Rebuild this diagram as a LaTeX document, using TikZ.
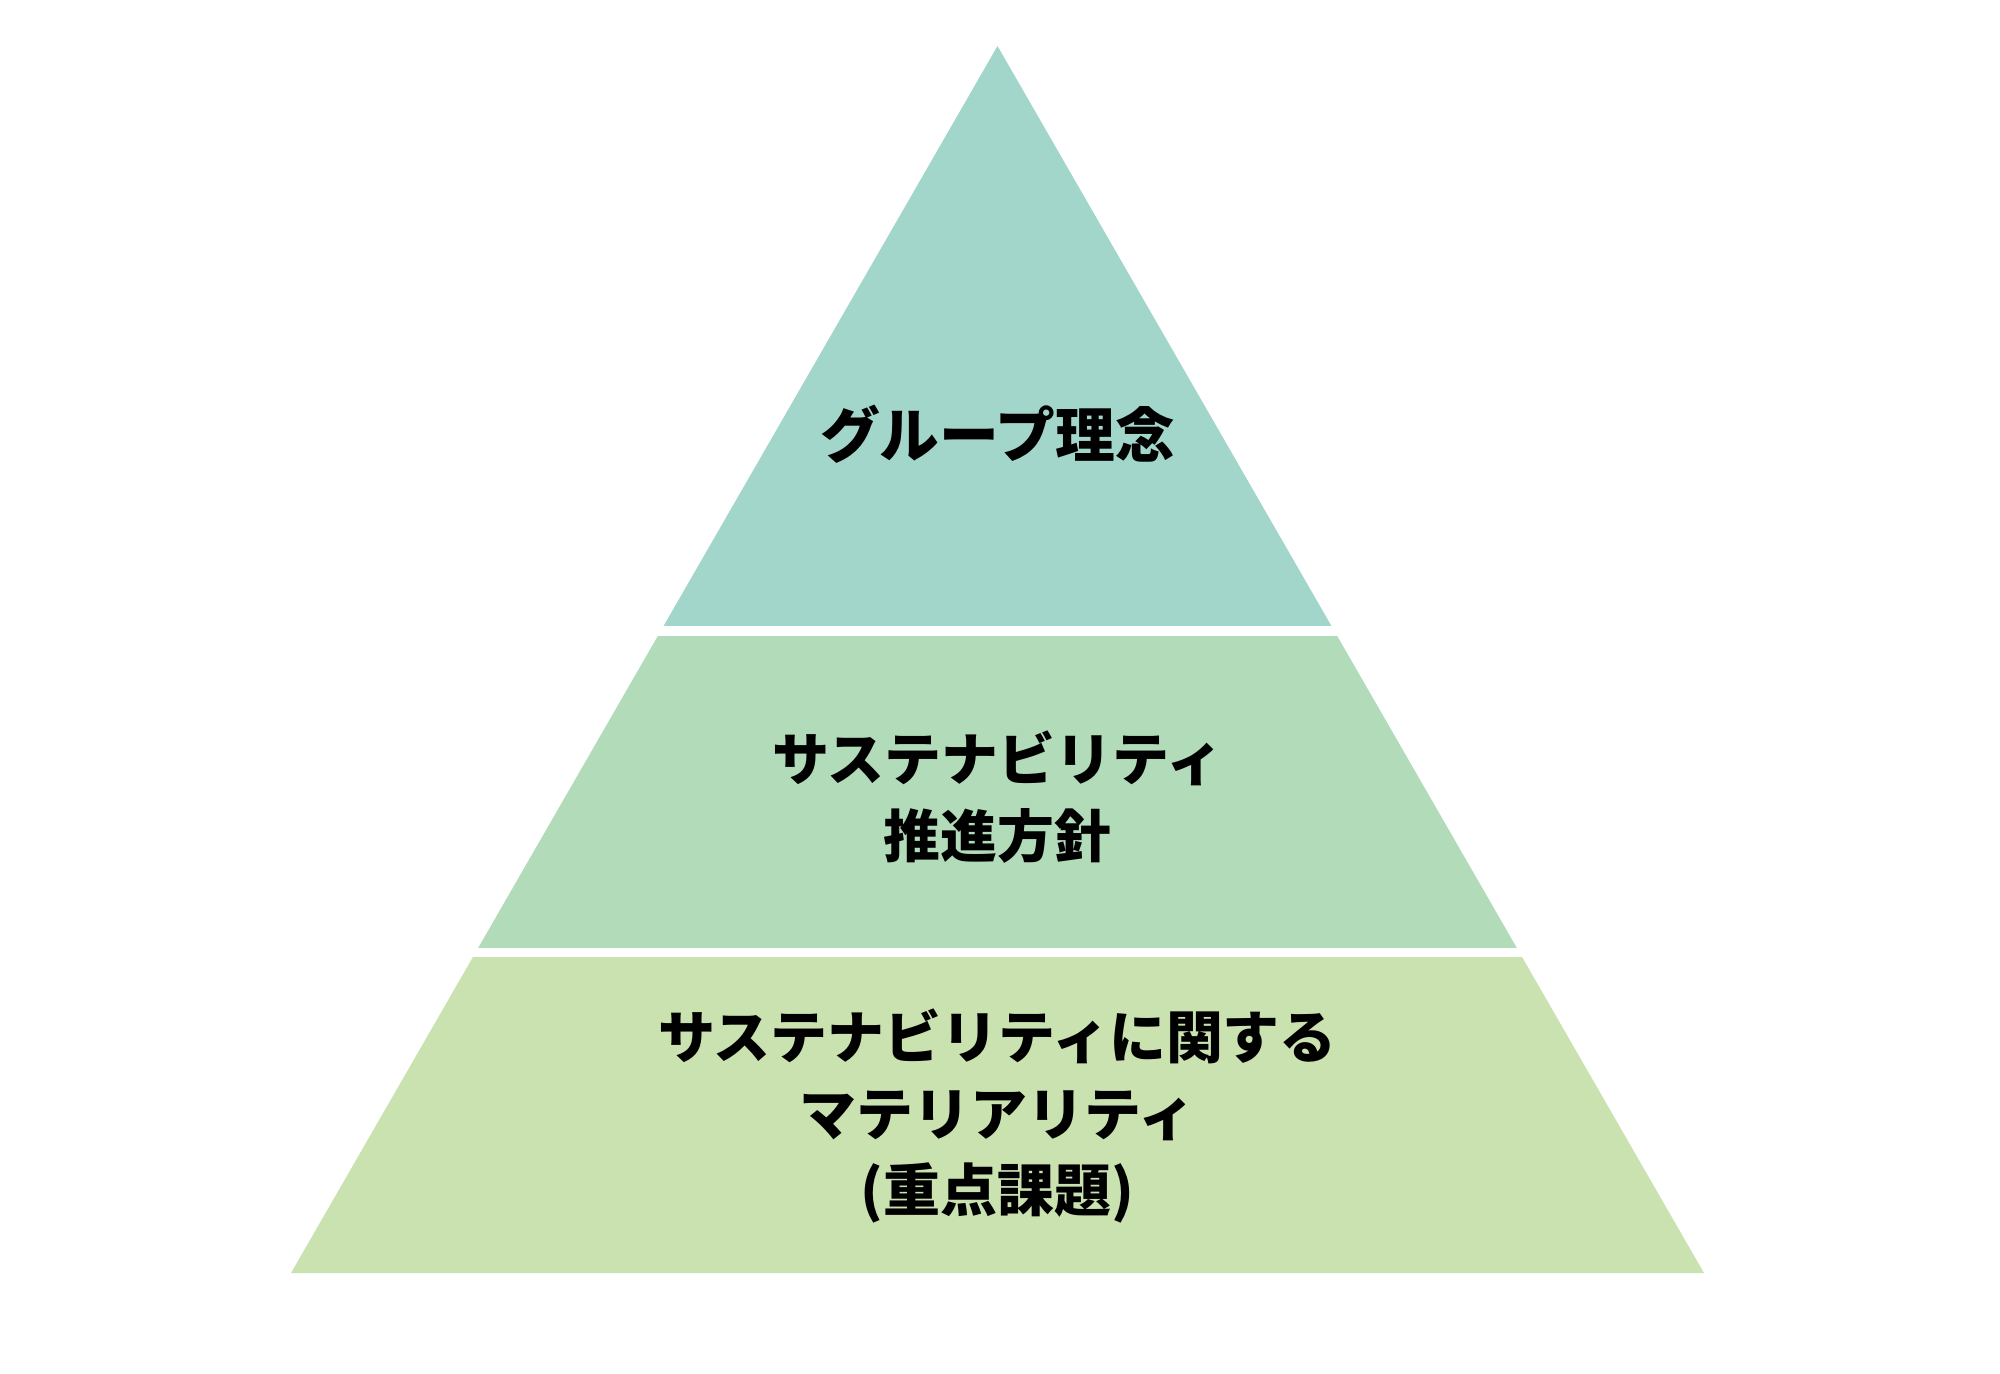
\documentclass[tikz,border=0pt]{standalone}
\usepackage{fontspec}
\newfontfamily\jpfont{Noto Sans CJK JP}
\definecolor{tierTop}{RGB}{163,214,202}
\definecolor{tierMid}{RGB}{178,219,185}
\definecolor{tierLow}{RGB}{202,226,176}
\tikzset{
  tierlabel/.style={align=center, text=black,
    font=\jpfont\bfseries\fontsize{16.2}{21.9}\selectfont}
}
\begin{document}
\begin{tikzpicture}
\useasboundingbox (0,0) rectangle (20,13.73);
% Pyramide
\coordinate (apex) at (9.975,13.27);
\coordinate (baseL) at (2.91,1.00);
\coordinate (baseR) at (17.04,1.00);
\begin{scope}
\clip (apex) -- (baseL) -- (baseR) -- cycle;
\fill[tierTop] (0,7.47) rectangle (20,13.73);
\fill[tierMid] (0,4.25) rectangle (20,7.37);
\fill[tierLow] (0,0) rectangle (20,4.16);
\end{scope}
% Texte
\node[tierlabel, font=\jpfont\bfseries\fontsize{17}{22}\selectfont] (vision) at (9.975,9.39) {グループ理念};
\node[tierlabel] (policy) at (9.975,5.76) {サステナビリティ\\推進方針};
\node[tierlabel] (issues) at (9.975,2.57) {サステナビリティに関する\\マテリアリティ\\(重点課題)};
\end{tikzpicture}
\end{document}
